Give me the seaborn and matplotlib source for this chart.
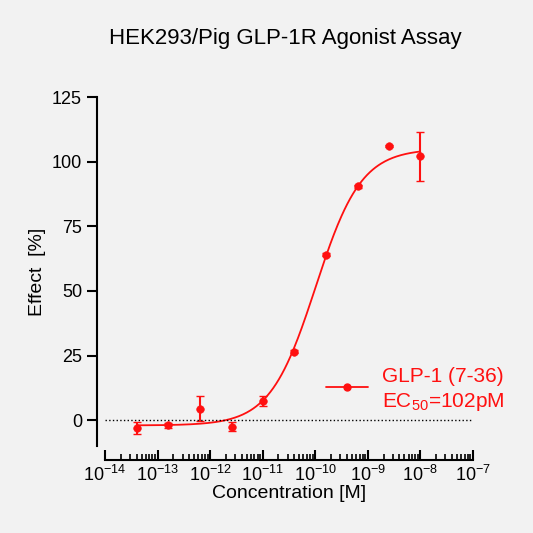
import matplotlib.pyplot as plt
import matplotlib.ticker as mticker
import numpy as np
import pandas as pd
import seaborn as sns

conc = [4e-14, 1.6e-13, 6.4e-13, 2.56e-12, 1e-11, 4e-11, 1.6e-10, 6.4e-10, 2.56e-9, 1e-8]
effect = [-3.0, -2.0, 4.5, -2.5, 7.5, 26.5, 64.0, 90.5, 106.0, 102.0]
err = [2.5, 0.8, 4.8, 1.8, 1.8, 0.5, 0.5, 0.5, 0.5, 9.5]
fit_bottom, fit_top, fit_ec50, fit_hill = -2.0, 105.0, 1.02e-10, 1.0

sns.set_style('ticks')
plt.rcParams['font.family'] = ['Liberation Sans', 'DejaVu Sans']
plt.rcParams['mathtext.fontset'] = 'custom'
plt.rcParams['mathtext.rm'] = 'Liberation Sans'
plt.rcParams['text.color'] = 'black'
plt.rcParams['axes.labelcolor'] = 'black'
plt.rcParams['xtick.color'] = 'black'
plt.rcParams['ytick.color'] = 'black'
plt.rcParams['axes.edgecolor'] = 'black'
red = '#ff1010'

fig = plt.figure(figsize=(5.33, 5.33), dpi=100, facecolor='#f2f2f2')
ax = fig.add_axes([0.197, 0.163, 0.69, 0.655])
ax.set_facecolor('#f2f2f2')

df = pd.DataFrame({'conc': conc, 'effect': effect})
xs = np.logspace(np.log10(conc[0]), np.log10(conc[-1]), 300)
ys = fit_bottom + (fit_top - fit_bottom) / (1 + (fit_ec50 / xs) ** fit_hill)
sns.lineplot(x=xs, y=ys, color=red, lw=1.3, ax=ax)
ax.errorbar(conc, effect, yerr=err, fmt='none', ecolor=red, elinewidth=1.5, capsize=3)
sns.scatterplot(data=df, x='conc', y='effect', color=red, s=30, edgecolor=red, ax=ax, zorder=3)
ax.axhline(0, color='black', ls=':', lw=1)

ax.set_xscale('log')
ax.set_xlim(1e-14, 1e-7)
ax.set_ylim(-10, 125)
ax.set_yticks([0, 25, 50, 75, 100, 125])
ax.xaxis.set_major_locator(mticker.LogLocator(base=10, numticks=10))
ax.xaxis.set_minor_locator(mticker.LogLocator(base=10, subs=np.arange(2, 10), numticks=100))
ax.xaxis.set_major_formatter(mticker.FuncFormatter(lambda v, p: '10$^{%d}$' % round(np.log10(v))))
sns.despine(ax=ax)
ax.spines['bottom'].set_position(('outward', 10))
ax.spines['left'].set_position(('outward', 6))
for s in ('bottom', 'left'):
    ax.spines[s].set_linewidth(1.5)
ax.tick_params(axis='x', which='major', direction='in', length=7, width=1.5, labelsize=13)
ax.tick_params(axis='x', which='minor', direction='in', length=4, width=1.2)
ax.tick_params(axis='y', length=7, width=1.5, labelsize=13)
ax.set_xlabel('Concentration [M]', fontsize=14, labelpad=0)
ax.set_ylabel('Effect  [%]', fontsize=14)
fig.text(0.535, 0.928, 'HEK293/Pig GLP-1R Agonist Assay', ha='center', va='center', fontsize=16)

ax.plot([1.6e-10, 1e-9], [13, 13], color=red, lw=1.3)
ax.plot([4e-10], [13], 'o', color=red, ms=5)
ax.text(1.9e-9, 17, 'GLP-1 (7-36)', color=red, fontsize=15, va='center')
ax.text(1.9e-9, 7, 'EC$_{50}$=102pM', color=red, fontsize=15, va='center')

fig.savefig('out.png', dpi=100, facecolor=fig.get_facecolor())
